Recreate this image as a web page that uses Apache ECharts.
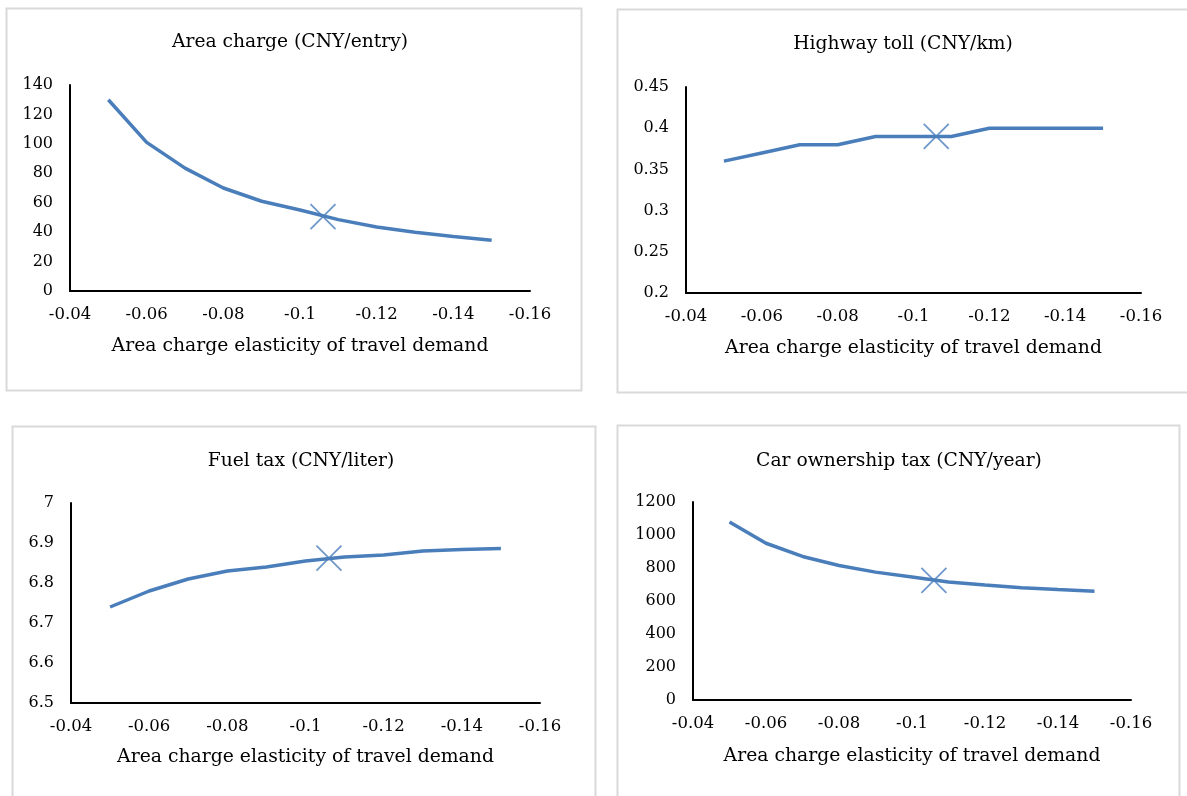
<!DOCTYPE html>
<html>
<head>
<meta charset="utf-8">
<script src="https://cdn.jsdelivr.net/npm/echarts@6/dist/echarts.min.js"></script>
<style>
html,body{margin:0;padding:0;background:#fff;}
#chart{width:1187px;height:796px;}
</style>
</head>
<body>
<div id="chart"></div>
<script>
// ---- data ----
const elasticity = [-0.05, -0.06, -0.07, -0.08, -0.09, -0.10, -0.11, -0.12, -0.13, -0.14, -0.15];
const areaCharge = [130, 101, 83.5, 70, 61, 55, 48.5, 43.5, 40, 37, 34.5];
const highwayToll = [0.36, 0.37, 0.38, 0.38, 0.39, 0.39, 0.39, 0.40, 0.40, 0.40, 0.40];
const fuelTax = [6.74, 6.78, 6.81, 6.83, 6.84, 6.855, 6.865, 6.87, 6.88, 6.884, 6.886];
const carTax = [1079, 950, 870, 815, 775, 745, 715, 697, 681, 669, 659];
const markerX = -0.106;
const markerValues = [50.5, 0.39, 6.862, 725];
const panelTitles = ['Area charge (CNY/entry)', 'Highway toll (CNY/km)', 'Fuel tax (CNY/liter)', 'Car ownership tax (CNY/year)'];
const xAxisName = 'Area charge elasticity of travel demand';
const xTicks = { min: -0.16, max: -0.04, interval: 0.02 };
const yTicks = [
  { min: 0, max: 140, interval: 20 },
  { min: 0.2, max: 0.45, interval: 0.05 },
  { min: 6.5, max: 7, interval: 0.1 },
  { min: 0, max: 1200, interval: 200 }
];
const seriesValues = [areaCharge, highwayToll, fuelTax, carTax];

// ---- layout ----
const FONT = '"DejaVu Serif", "Liberation Serif", serif';
const BLUE = '#4A7EBB';
const grids = [
  { left: 70, top: 85, width: 460, height: 206 },
  { left: 686, top: 87, width: 455, height: 206 },
  { left: 71, top: 503, width: 469, height: 200 },
  { left: 693, top: 502, width: 438, height: 198 }
];
const borders = [
  { x: 6, y: 8, w: 575, h: 382 },
  { x: 617, y: 9, w: 580, h: 383 },
  { x: 12, y: 426, w: 583, h: 380 },
  { x: 617, y: 425, w: 562, h: 380 }
];
const titlePos = [[290, 42], [903, 44], [301, 461], [899, 461]];
const nameGaps = [46, 46, 45, 47];

function fmt(v) {
  return String(parseFloat(Number(v).toFixed(4)));
}

const option = {
  animation: false,
  backgroundColor: '#fff',
  graphic: [],
  grid: grids.map(g => Object.assign({ containLabel: false }, g)),
  xAxis: grids.map((g, i) => ({
    type: 'value', gridIndex: i, inverse: true,
    min: xTicks.min, max: xTicks.max, interval: xTicks.interval,
    name: xAxisName, nameLocation: 'middle', nameGap: nameGaps[i],
    nameTextStyle: { fontFamily: FONT, fontSize: 18.8, color: '#000' },
    axisLine: { onZero: false, lineStyle: { color: '#000', width: 2 } },
    axisTick: { show: false },
    splitLine: { show: false },
    axisLabel: { fontFamily: FONT, fontSize: 16.5, color: '#000', margin: 15, formatter: fmt }
  })),
  yAxis: grids.map((g, i) => ({
    type: 'value', gridIndex: i,
    min: yTicks[i].min, max: yTicks[i].max, interval: yTicks[i].interval,
    axisLine: { show: true, onZero: false, lineStyle: { color: '#000', width: 2 } },
    axisTick: { show: false },
    splitLine: { show: false },
    axisLabel: { fontFamily: FONT, fontSize: 16, color: '#000', margin: 17, formatter: fmt }
  })),
  series: []
};

borders.forEach(b => {
  option.graphic.push({
    type: 'rect', silent: true, z: -10,
    shape: { x: b.x + 0.5, y: b.y + 0.5, width: b.w, height: b.h },
    style: { fill: 'none', stroke: '#D9D9D9', lineWidth: 2 }
  });
});
panelTitles.forEach((t, i) => {
  option.graphic.push({
    type: 'text', silent: true,
    x: titlePos[i][0], y: titlePos[i][1],
    style: { text: t, font: '18.7px ' + FONT, fill: '#000',
      textAlign: 'center', textVerticalAlign: 'middle', align: 'center', verticalAlign: 'middle' }
  });
});

seriesValues.forEach((vals, i) => {
  option.series.push({
    type: 'line', xAxisIndex: i, yAxisIndex: i,
    data: elasticity.map((x, k) => [x, vals[k]]),
    showSymbol: false, symbol: 'none',
    lineStyle: { color: BLUE, width: 3.5 },
    z: 2
  });
  option.series.push({
    type: 'scatter', xAxisIndex: i, yAxisIndex: i,
    data: [[markerX, markerValues[i]]],
    symbol: 'path://M0,0L10,10M10,0L0,10',
    symbolSize: 25,
    itemStyle: { color: 'transparent', borderColor: BLUE, borderWidth: 1.8 },
    z: 3
  });
});

const chart = echarts.init(document.getElementById('chart'), null, { renderer: 'canvas' });
chart.setOption(option);
</script>
</body>
</html>
